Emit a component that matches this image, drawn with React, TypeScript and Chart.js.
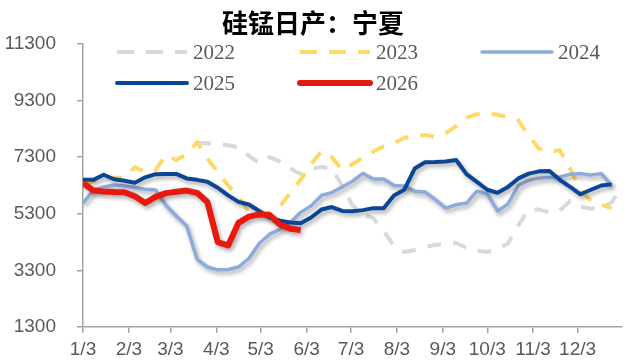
import React, { useEffect, useRef } from "react";
import { Chart, registerables } from "chart.js";

Chart.register(...registerables);

// Axis ticks: x values are days counted from 3 January
const monthTickDays = [0, 31, 59, 90, 120, 151, 181, 212, 243, 273, 304, 334];
const monthTickLabels = ["1/3", "2/3", "3/3", "4/3", "5/3", "6/3", "7/3", "8/3", "9/3", "10/3", "11/3", "12/3"];
const yTickValues = [1300, 3300, 5300, 7300, 9300, 11300];

const chartTitle = "硅锰日产：宁夏";
const seriesLabels = ["2022", "2023", "2024", "2025", "2026"];

// Weekly daily output (tonnes), one value per week starting 1/3
const output2022 = [
  null, null, null, null, null, null, null, null, null, null, null,
  7800, 7790, 7770, 7720, 7650, 7350, 7080, 7300, 7150, 6900,
  6700, 6900, 6950, 6900, 6300, 5600, 5280, 5150, 4700, 4150,
  3950, 4020, 4130, 4200, 4220, 4270, 4100, 4000, 3950, 4060,
  4250, 4900, 5450, 5450, 5350, 5420, 5750, 5550, 5480, 5520,
  5700, 6300,
];
const output2023 = [
  6320, 6450, 6550, 6570, 6580, 6950, 6780, 6850, 7380, 7200,
  7400, 7830, 7250, 6780, 6300, 5900, 5350, 5200, 5350, 5550,
  6050, 6500, 7050, 7500, 7300, 6850, 7050, 7300, 7500, 7680,
  7800, 7980, 8050, 8080, 8020, 8150, 8400, 8700, 8820, 8860,
  8800, 8700, 8600, 8050, 7600, 7480, 7550, 6900, 6100, 5780,
  5620, 5500,
];
const output2024 = [
  5680, 6140, 6250, 6320, 6280, 6230, 6170, 6140, 5600, 5220,
  4880, 3700, 3420, 3320, 3330, 3420, 3720, 4250, 4580, 4750,
  5000, 5350, 5580, 5950, 6050, 6250, 6450, 6730, 6530, 6530,
  6300, 6280, 6100, 6070, 5800, 5500, 5620, 5680, 6100, 6000,
  5400, 5650, 6300, 6480, 6560, 6580, 6600, 6700, 6720, 6670,
  6720, 6300,
];
const output2025 = [
  6500, 6500, 6680, 6520, 6470, 6400, 6590, 6700, 6710, 6710,
  6550, 6500, 6430, 6220, 5950, 5720, 5630, 5400, 5170, 5060,
  4990, 4970, 5170, 5450, 5540, 5400, 5390, 5430, 5500, 5500,
  5950, 6150, 6900, 7120, 7130, 7150, 7200, 6700, 6430, 6150,
  6040, 6250, 6550, 6720, 6800, 6810, 6500, 6250, 5990, 6150,
  6300, 6340,
];
const output2026 = [
  6390, 6120, 6090, 6070, 6060, 5920, 5680, 5900, 6030, 6080,
  6120, 6040, 5720, 4300, 4180, 4980, 5200, 5280, 5260, 4920,
  4770, 4730,
];

const DAYS_PER_WEEK = 7;
const toPoints = (values: (number | null)[]) =>
  values.map((v, i) => ({ x: i * DAYS_PER_WEEK, y: v }));

const AXIS_COLOR = "#a3a3a3";
const LABEL_COLOR = "#595959";
const PLOT_DASH = [14, 12];
const LEGEND_DASH = [17, 12];

// Soft drop shadow under the solid year lines
const shadowPlugin = {
  id: "lineShadow",
  beforeDatasetDraw(chart: any, args: any) {
    const ds = chart.data.datasets[args.index];
    if (!ds.shadow) return;
    const ctx = chart.ctx;
    ctx.save();
    ctx.shadowColor = "rgba(0,0,0,0.32)";
    ctx.shadowBlur = 4;
    ctx.shadowOffsetX = 2;
    ctx.shadowOffsetY = 3;
  },
  afterDatasetDraw(chart: any, args: any) {
    const ds = chart.data.datasets[args.index];
    if (!ds.shadow) return;
    chart.ctx.restore();
  },
};

// Title and a two-row legend laid out in three columns
const headerPlugin = {
  id: "header",
  afterDraw(chart: any) {
    const ctx = chart.ctx;
    ctx.save();
    ctx.font = 'bold 26px "Noto Sans CJK SC"';
    ctx.fillStyle = "#000";
    ctx.textAlign = "center";
    ctx.textBaseline = "middle";
    ctx.fillText(chartTitle, chart.width / 2, 23);
    ctx.restore();

    const cols = [117, 300, 482];
    const rows = [52, 83];
    const swatch = 70;
    chart.data.datasets.forEach((ds: any, i: number) => {
      const x0 = cols[i % 3];
      const y = rows[Math.floor(i / 3)];
      ctx.save();
      ctx.strokeStyle = ds.borderColor;
      ctx.lineWidth = ds.borderWidth;
      ctx.lineCap = ds.borderDash ? "butt" : "round";
      ctx.setLineDash(ds.borderDash ? LEGEND_DASH : []);
      ctx.beginPath();
      ctx.moveTo(x0, y);
      ctx.lineTo(x0 + swatch, y);
      ctx.stroke();
      ctx.setLineDash([]);
      ctx.font = '21px "Liberation Serif"';
      ctx.fillStyle = LABEL_COLOR;
      ctx.textAlign = "left";
      ctx.textBaseline = "middle";
      ctx.fillText(ds.label, x0 + swatch + 6, y + 1);
      ctx.restore();
    });
  },
};

export default function App() {
  const canvasRef = useRef<HTMLCanvasElement | null>(null);

  useEffect(() => {
    if (!canvasRef.current) return;
    const tickFont = { family: "'Liberation Sans', Arial, sans-serif", size: 19 };
    const chart = new Chart(canvasRef.current, {
      type: "line",
      data: {
        datasets: [
          {
            label: seriesLabels[0],
            data: toPoints(output2022),
            borderColor: "#d9d9d9",
            borderWidth: 4,
            borderDash: PLOT_DASH,
            order: 5,
          },
          {
            label: seriesLabels[1],
            data: toPoints(output2023),
            borderColor: "#ffd966",
            borderWidth: 4,
            borderDash: PLOT_DASH,
            order: 4,
          },
          {
            label: seriesLabels[2],
            data: toPoints(output2024),
            borderColor: "#8eaadb",
            borderWidth: 3.5,
            order: 3,
            shadow: true,
          },
          {
            label: seriesLabels[3],
            data: toPoints(output2025),
            borderColor: "#0b4595",
            borderWidth: 4,
            order: 2,
            shadow: true,
          },
          {
            label: seriesLabels[4],
            data: toPoints(output2026),
            borderColor: "#e8190f",
            borderWidth: 6,
            order: 1,
            shadow: true,
          },
        ] as any,
      },
      options: {
        responsive: false,
        animation: false,
        devicePixelRatio: 1,
        layout: { padding: { top: 44, right: 4, left: 0, bottom: 0 } },
        elements: {
          point: { radius: 0, hoverRadius: 0 },
          line: { tension: 0, borderJoinStyle: "round", borderCapStyle: "butt", fill: false },
        },
        plugins: {
          legend: { display: false },
          title: { display: false },
          tooltip: { enabled: false },
        },
        scales: {
          x: {
            type: "linear",
            min: 0,
            max: 364,
            afterBuildTicks: (s: any) => {
              s.ticks = monthTickDays.map((v) => ({ value: v }));
            },
            afterFit: (s: any) => {
              s.height = 34;
            },
            ticks: {
              autoSkip: false,
              maxRotation: 0,
              padding: 5,
              color: LABEL_COLOR,
              font: tickFont,
              callback: (_v: any, i: number) => monthTickLabels[i],
            },
            grid: { drawOnChartArea: false, drawTicks: true, tickLength: 6, color: AXIS_COLOR, lineWidth: 1.5 },
            border: { color: AXIS_COLOR, width: 1.5 },
          },
          y: {
            min: 1300,
            max: 11300,
            afterBuildTicks: (s: any) => {
              s.ticks = yTickValues.map((v) => ({ value: v }));
            },
            afterFit: (s: any) => {
              s.width = 83;
            },
            ticks: {
              padding: 21,
              color: LABEL_COLOR,
              font: tickFont,
              callback: (v: any) => String(v),
            },
            grid: { drawOnChartArea: false, drawTicks: true, tickLength: 6, color: AXIS_COLOR, lineWidth: 1.5 },
            border: { color: AXIS_COLOR, width: 1.5 },
          },
        },
      } as any,
      plugins: [shadowPlugin, headerPlugin],
    });
    return () => chart.destroy();
  }, []);

  return (
    <div style={{ position: "fixed", left: 0, top: 0, width: 626, height: 361, background: "#fff" }}>
      <canvas ref={canvasRef} width={626} height={361} style={{ display: "block" }} />
    </div>
  );
}
